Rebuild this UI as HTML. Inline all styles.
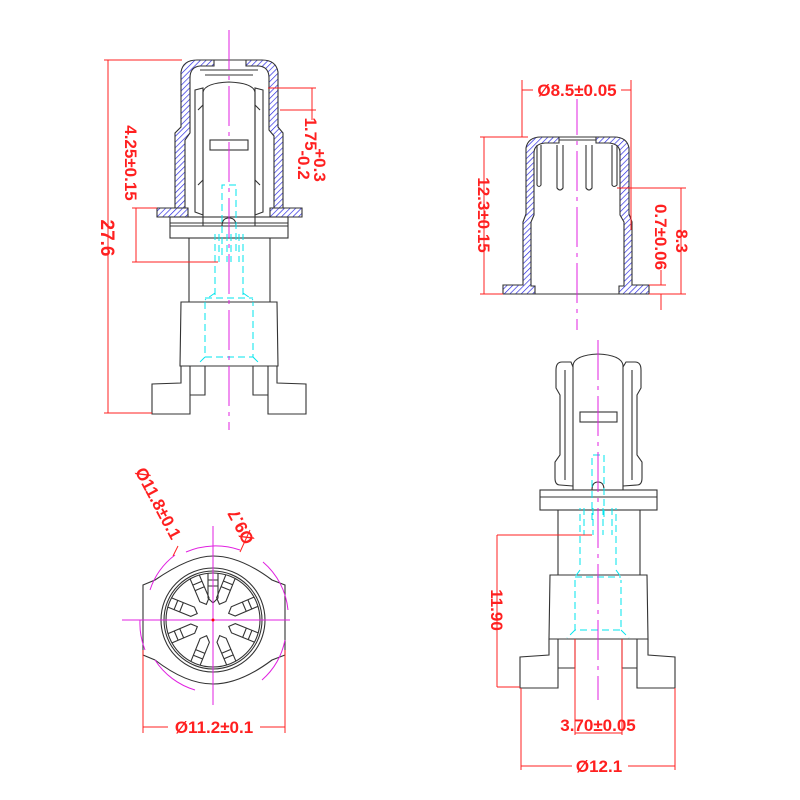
<!DOCTYPE html>
<html><head><meta charset="utf-8"><style>html,body{margin:0;padding:0;background:#fff}svg{display:block}</style></head>
<body>
<svg width="800" height="800" viewBox="0 0 800 800" xmlns="http://www.w3.org/2000/svg" font-family="Liberation Sans, sans-serif">
<defs>
<pattern id="h" width="4" height="4" patternUnits="userSpaceOnUse" patternTransform="rotate(45)">
<rect width="4" height="4" fill="#fff"/><line x1="0" y1="0" x2="0" y2="4" stroke="#2020e0" stroke-width="1.3"/>
</pattern>
</defs>
<g fill="none" stroke="#333" stroke-width="1.1">
<!-- ===== LEFT TOP VIEW ===== -->
<path d="M175,208 L175,133 L181,127 L181,72 Q183,60 197,60 L214,60 L214,66 L200,66 Q190,67 190,78 L190,133 L185,140 L185,208 Z" fill="url(#h)"/>
<path d="M283,208 L283,133 L278,127 L278,72 Q276,60 262,60 L246,60 L246,66 L259,66 Q269,67 269,78 L269,130 L274,136 L274,208 Z" fill="url(#h)"/>
<path d="M157,208 L188,208 L188,217 L157,217 Z" fill="url(#h)"/>
<path d="M270,208 L302,208 L302,217 L270,217 Z" fill="url(#h)"/>
<path d="M195,90 L203,88 L203,215 L195,212 Z"/>
<path d="M263,90 L255,88 L255,215 L263,212 Z"/>
<path d="M198,110 L203,105 M198,185 L203,180 M260,110 L255,105 M260,185 L255,180"/>
<path d="M200,70 L258,70 M205,75 L253,75 M214,60 L246,60"/>
<path d="M203,226 L203,92 Q205,83 229,82 Q253,83 255,92 L255,226 M222,226 Q222,218 229,218 Q236,218 236,226"/>
<rect x="210" y="140" width="38" height="10"/>
<rect x="170" y="217" width="118" height="21"/>
<line x1="170" y1="223" x2="288" y2="223"/>
<line x1="170" y1="226" x2="288" y2="226"/>
<path d="M189,238 L189,302 M270,238 L270,302"/>
<path d="M181,302 L277,302 L278,366 L180,366 Z"/>
<path d="M181,366 L181,383 L152,384 L152,414 L190,414 L190,366 M190,395 L205,395 L205,366"/>
<path d="M277,366 L277,383 L306,384 L306,414 L268,414 L268,366 M268,395 L253,395 L253,366"/>

<!-- ===== RIGHT TOP (cap section) ===== -->
<path d="M523,222 L526,214 L526,148 Q528,137 541,137 L559,137 L559,143 L545,143 Q534,144 534,153 L534,215 L531,222 L531,286 L535,286 L535,294 L503,294 L503,285 L523,285 Z" fill="url(#h)"/>
<path d="M632,222 L629,214 L629,148 Q627,137 614,137 L596,137 L596,143 L609,143 Q620,144 620,153 L620,215 L624,222 L624,286 L619,286 L619,294 L649,294 L649,285 L632,285 Z" fill="url(#h)"/>
<line x1="535" y1="294" x2="619" y2="294"/>
<path d="M537,145 L537,185 Q539,188 541,185 L541,145"/>
<path d="M557,145 L557,188 Q560,192 563,188 L563,145"/>
<path d="M586,145 L586,188 Q589,192 592,188 L592,145"/>
<path d="M612,145 L612,185 Q614,188 617,185 L617,145"/>
<path d="M559,140 L596,140 M559,137 L596,137"/>

<!-- ===== BOTTOM LEFT (circle) ===== -->
<path d="M143,585 L155,580 Q190,556 213,556 Q240,556 272,580 L285,585 L285,655 L272,660 Q240,684 213,684 Q186,684 155,660 L143,655 Z"/>
<circle cx="213" cy="620" r="52"/>
<circle cx="213" cy="620" r="49"/>
<circle cx="213" cy="620" r="47"/>
<g transform="translate(213,620)">
<g id="sp"><path d="M-5,-47 L-5,-22 L0,-17 L5,-22 L5,-47"/><path d="M-5,-34 L5,-34 M-5,-40 L5,-40"/></g>
<use href="#sp" transform="rotate(22)"/><use href="#sp" transform="rotate(67)"/><use href="#sp" transform="rotate(112)"/>
<use href="#sp" transform="rotate(157)"/><use href="#sp" transform="rotate(202)"/><use href="#sp" transform="rotate(247)"/><use href="#sp" transform="rotate(292)"/><use href="#sp" transform="rotate(337)"/>
</g>

<!-- ===== BOTTOM RIGHT VIEW ===== -->
<path d="M573,490 L573,365 Q575,355 598,354 Q621,355 623,365 L623,490 M592,490 Q592,482 598,482 Q604,482 604,490"/>
<rect x="580" y="412" width="37" height="10"/>
<path d="M573,486 L560,485 Q555,485 555,478 L555,462 L560,455 L560,395 L556,388 L556,370 Q556,362 562,362 L571,362 L573,367"/>
<path d="M623,486 L637,485 Q642,485 642,478 L642,462 L637,455 L637,395 L641,388 L641,370 Q641,362 635,362 L626,362 L623,367"/>
<path d="M565,370 L565,480 M632,370 L632,480"/>
<rect x="540" y="490" width="117" height="20"/>
<line x1="540" y1="497" x2="657" y2="497"/>
<path d="M558,510 L558,575 M640,510 L640,575"/>
<path d="M550,575 L647,575 L648,639 L549,639 Z"/>
<path d="M549,639 L549,655 L520,657 L520,688 L558,688 L558,639 M558,668 L575,668 L575,639"/>
<path d="M648,639 L648,655 L675,657 L675,688 L637,688 L637,639 M637,668 L622,668 L622,639"/>
</g>

<g fill="none" stroke="#00e5ee" stroke-width="1" stroke-dasharray="7,4">
<path d="M222,255 L222,185 L236,185 L236,255"/>
<path d="M215,295 L215,234 M243,295 L243,234 M219,234 L219,262 M239,234 L239,262 M227,234 L227,262 M231,234 L231,262"/>
<path d="M205,302 L205,357 L253,357 L253,302 M205,298 L253,298 M215,293 L205,300 M243,293 L253,300 M205,357 L198,364 M253,357 L260,364"/>
<path d="M592,520 L592,455 L604,455 L604,520"/>
<path d="M580,565 L580,508 M616,565 L616,508 M584,508 L584,535 M612,508 L612,535 M593,508 L593,535 M603,508 L603,535"/>
<path d="M575,580 L575,630 L621,630 L621,580 M575,577 L621,577 M580,570 L575,577 M616,570 L621,577 M575,630 L567,638 M621,630 L629,638"/>
</g>

<g fill="none" stroke="#e020e0" stroke-width="1">
<path d="M229,30 L229,430" stroke-dasharray="40,6,4,6"/>
<path d="M577,95 L577,330" stroke-dasharray="40,6,4,6"/>
<path d="M598,340 L598,700" stroke-dasharray="40,6,4,6"/>
<line x1="213" y1="526" x2="213" y2="705"/>
<line x1="122" y1="620" x2="290" y2="620"/>
<path d="M186,552 A75,75 0 0,1 240,550"/>
<path d="M150,590 A72,72 0 0,1 175,555"/>
<path d="M263,562 A72,72 0 0,1 288,610"/>
<path d="M285,640 A72,72 0 0,1 262,680"/>
<path d="M155,660 A72,72 0 0,0 195,690"/>
<path d="M140,620 A72,72 0 0,0 145,650"/>
</g>
<circle cx="213" cy="620" r="1.5" fill="red"/>

<g fill="none" stroke="#ff2020" stroke-width="1">
<path d="M104,60 L182,60 M104,413 L152,413 M108,60 L108,413"/>
<path d="M132,208 L157,208 M132,262 L218,262 M136,208 L136,262"/>
<path d="M268,88 L316,88 M280,110 L316,110 M312,88 L312,120"/>
<path d="M522,80 L522,137 M631,80 L631,230 M522,90 L631,90"/>
<path d="M480,137 L528,137 M480,294 L503,294 M484,137 L484,294"/>
<path d="M617,188 L686,188 M649,294 L686,294 M681,188 L681,294"/>
<path d="M649,285 L666,285 M661,270 L661,285 M661,294 L661,310"/>
<path d="M178,546 L173,556"/>
<path d="M250,530 L240,552"/>
<path d="M143,650 L143,733 M285,650 L285,733 M143,727 L285,727"/>
<path d="M497,535 L592,535 M497,687 L520,687 M497,535 L497,687"/>
<path d="M575,639 L575,735 M622,639 L622,735 M575,733 L622,733"/>
<path d="M521,688 L521,770 M675,688 L675,770 M521,766 L675,766"/>
</g>
<g fill="#ff2020" font-weight="bold" font-size="17">
<text transform="translate(101,238) rotate(90)" text-anchor="middle" font-size="19">27.6</text>
<text transform="translate(125,163) rotate(90)" text-anchor="middle">4.25±0.15</text>
<text transform="translate(305,134) rotate(90)" text-anchor="middle">1.75</text>
<text transform="translate(314,165) rotate(90)" text-anchor="middle">+0.3</text>
<text transform="translate(298,165) rotate(90)" text-anchor="middle">-0.2</text>
<rect x="533" y="81" width="88" height="18" fill="#fff"/>
<text x="577" y="96" text-anchor="middle">Ø8.5±0.05</text>
<text transform="translate(478,215) rotate(90)" text-anchor="middle">12.3±0.15</text>
<text transform="translate(655,237) rotate(90)" text-anchor="middle">0.7±0.06</text>
<text transform="translate(676,241) rotate(90)" text-anchor="middle">8.3</text>
<text transform="translate(153,506) rotate(62)" text-anchor="middle">Ø11.8±0.1</text>
<text transform="translate(246,524) rotate(-118)" text-anchor="middle">Ø9.7</text>
<rect x="168" y="719" width="92" height="17" fill="#fff"/>
<text x="214" y="733" text-anchor="middle">Ø11.2±0.1</text>
<text transform="translate(491,610) rotate(90)" text-anchor="middle">11.90</text>
<text x="598" y="731" text-anchor="middle">3.70±0.05</text>
<rect x="572" y="758" width="56" height="17" fill="#fff"/>
<text x="599" y="772" text-anchor="middle">Ø12.1</text>
</g>
</svg>
</body></html>
